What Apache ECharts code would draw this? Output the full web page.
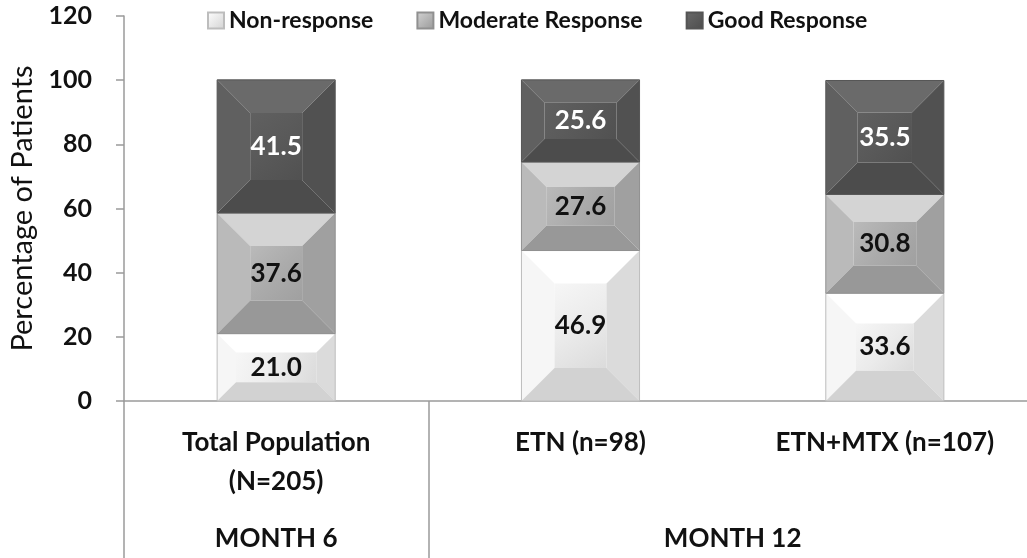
<!DOCTYPE html>
<html>
<head>
<meta charset="utf-8">
<script src="https://cdn.jsdelivr.net/npm/echarts@6/dist/echarts.min.js"></script>
<style>
	html, body { margin: 0; padding: 0; background: #fff; }
	#chart { width: 1027px; height: 558px; }
</style>
</head>
<body>
<div id="chart"></div>
<script>
const categories = [ 'Total Population\n(N=205)', 'ETN (n=98)', 'ETN+MTX (n=107)' ]
const months = [ 'MONTH 6', 'MONTH 12' ]
const monthAt = [ 0.5, 2 ]
const monthBounds = [ 0, 1 ]
const seriesNames = [ 'Non-response', 'Moderate Response', 'Good Response' ]
const nonResponse = [ 21.0, 46.9, 33.6 ]
const moderate = [ 37.6, 27.6, 30.8 ]
const good = [ 41.5, 25.6, 35.5 ]

const font = 'Lato, "Open Sans", sans-serif'

// facet colours: top, left, centre, right, bottom, outline, label
const palettes = [
	[ '#ffffff', '#f6f6f6', '#ebebeb', '#dbdbdb', '#d2d2d2', '#bdbdbd', '#111' ],
	[ '#d4d4d4', '#bababa', '#ababab', '#a0a0a0', '#989898', '#909090', '#111' ],
	[ '#6a6a6a', '#606060', '#595959', '#515151', '#4c4c4c', '#555555', '#fff' ]
]

const stacks = [ nonResponse, moderate, good ]
const bases = stacks.map((vals, s) => vals.map((_, i) => {
	let b = 0
	for (let k = 0; k < s; k++) b += stacks[k][i]
	return b
}))

const barRatio = 0.388

const makeRender = (pal) => (params, api) => {
	const x = api.value(0), y0 = api.value(1), y1 = api.value(2)
	const pt = api.coord([ x, y1 ]), pb = api.coord([ x, y0 ])
	const w = api.size([ 1, 0 ])[0] * barRatio
	const l = pt[0] - w / 2, r = pt[0] + w / 2, t = pt[1], b = pb[1]
	const d = Math.min(w, b - t) * 0.28
	const poly = (points, fill) => ({ type: 'polygon', shape: { points }, style: { fill } })
	const centre = new echarts.graphic.LinearGradient(0, 0, 1, 1, [
		{ offset: 0, color: pal[1] }, { offset: 0.5, color: pal[2] }, { offset: 1, color: pal[3] }
	])
	return {
		type: 'group',
		children: [
			poly([ [ l, t ], [ r, t ], [ r - d, t + d ], [ l + d, t + d ] ], pal[0]),
			poly([ [ l, t ], [ l + d, t + d ], [ l + d, b - d ], [ l, b ] ], pal[1]),
			{ type: 'rect', shape: { x: l + d, y: t + d, width: w - 2 * d, height: b - t - 2 * d },
				style: { fill: centre } },
			poly([ [ r, t ], [ r, b ], [ r - d, b - d ], [ r - d, t + d ] ], pal[3]),
			poly([ [ l, b ], [ r, b ], [ r - d, b - d ], [ l + d, b - d ] ], pal[4]),
			{ type: 'rect', shape: { x: l, y: t, width: w, height: b - t },
				style: { fill: 'none', stroke: pal[5], lineWidth: 1 } },
			{ type: 'text', x: pt[0], y: (t + b) / 2,
				style: { text: api.value(3).toFixed(1), align: 'center', verticalAlign: 'middle',
					fill: pal[6], font: 'bold 26px ' + font } }
		]
	}
}

const chart = echarts.init(document.getElementById('chart'))
chart.setOption({
	backgroundColor: '#fff',
	animation: false,
	legend: {
		left: 202,
		top: 4,
		itemWidth: 16,
		itemHeight: 16,
		itemGap: 43,
		icon: 'rect',
		textStyle: { fontFamily: font, fontWeight: 'bold', fontSize: 23, color: '#111' },
		data: seriesNames
	},
	grid: { left: 124, top: 16, width: 913, height: 385, outerBoundsMode: 'none' },
	xAxis: [
		{
			type: 'category',
			data: categories,
			axisLine: { lineStyle: { color: '#9a9a9a', width: 1.5 } },
			axisTick: { length: 95, lineStyle: { color: '#9a9a9a', width: 1.5 } },
			axisLabel: { margin: 22, fontFamily: font, fontWeight: 'bold', fontSize: 26, lineHeight: 39, color: '#111' }
		},
		{
			type: 'value',
			min: 0,
			max: 3,
			position: 'bottom',
			axisLine: { show: false },
			splitLine: { show: false },
			axisTick: { show: true, customValues: monthBounds, length: 160, lineStyle: { color: '#9a9a9a', width: 1.5 } },
			axisLabel: {
				customValues: monthAt,
				margin: 118,
				fontFamily: font, fontWeight: 'bold', fontSize: 26, lineHeight: 39, color: '#111',
				formatter: (v) => months[monthAt.indexOf(v)] || ''
			}
		}
	],
	yAxis: {
		type: 'value',
		min: 0,
		max: 120,
		interval: 20,
		name: 'Percentage of Patients',
		nameLocation: 'middle',
		nameGap: 86,
		nameTextStyle: { fontFamily: font, fontSize: 29, color: '#111' },
		axisLine: { show: true, lineStyle: { color: '#9a9a9a', width: 1.5 } },
		axisTick: { show: true, length: 8, lineStyle: { color: '#9a9a9a', width: 1.5 } },
		splitLine: { show: false },
		axisLabel: { margin: 32, fontFamily: font, fontWeight: 'bold', fontSize: 25, color: '#111' }
	},
	series: stacks.map((vals, s) => ({
		type: 'custom',
		name: seriesNames[s],
		xAxisIndex: 0,
		itemStyle: {
			color: new echarts.graphic.LinearGradient(0, 0, 1, 1, [
				{ offset: 0, color: palettes[s][0] },
				{ offset: 1, color: palettes[s][4] }
			]),
			borderColor: palettes[s][5],
			borderWidth: 1
		},
		renderItem: makeRender(palettes[s]),
		encode: { x: 0, y: [ 1, 2 ] },
		data: vals.map((v, i) => [ i, bases[s][i], bases[s][i] + v, v ])
	}))
})
</script>
</body>
</html>
